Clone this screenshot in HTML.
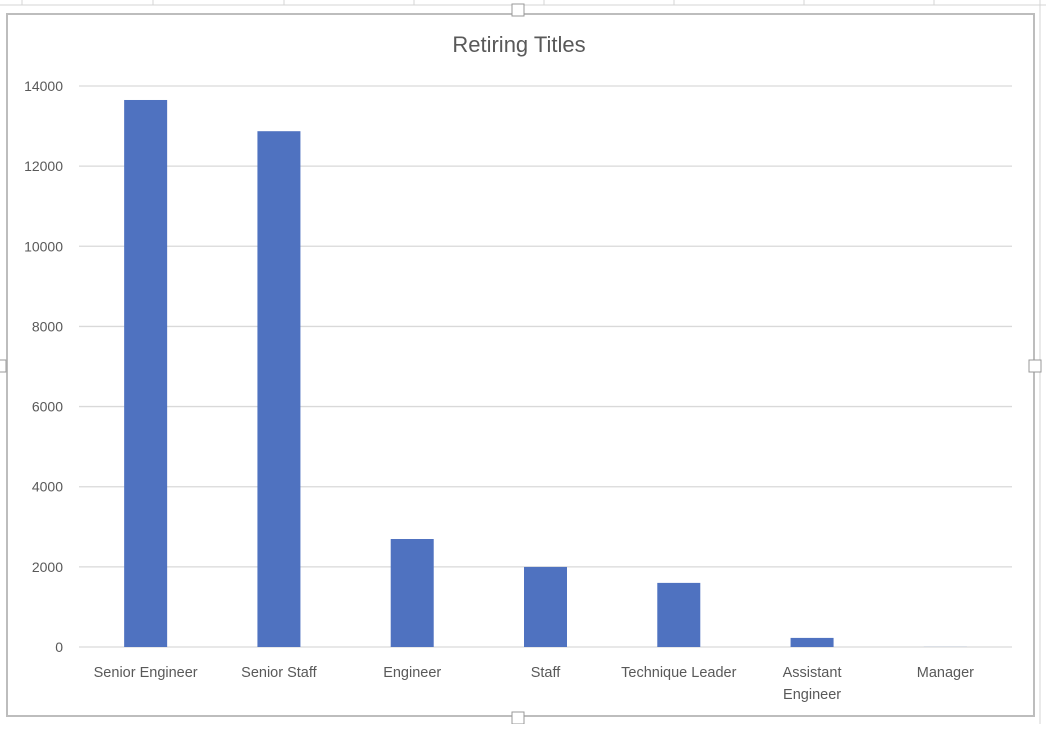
<!DOCTYPE html>
<html><head><meta charset="utf-8"><style>
body{margin:0;width:1046px;height:724px;background:#fff;overflow:hidden;font-family:"Liberation Sans",sans-serif}
</style></head><body>
<svg id="c" width="1046" height="724">
<g stroke="#d4d4d4">
<line x1="0" y1="5" x2="1046" y2="5"/>
<line x1="22" y1="0" x2="22" y2="5"/><line x1="153" y1="0" x2="153" y2="5"/><line x1="284" y1="0" x2="284" y2="5"/><line x1="414" y1="0" x2="414" y2="5"/><line x1="544" y1="0" x2="544" y2="5"/><line x1="674" y1="0" x2="674" y2="5"/><line x1="804" y1="0" x2="804" y2="5"/><line x1="934" y1="0" x2="934" y2="5"/>
<line x1="1040" y1="0" x2="1040" y2="724"/>
</g>
<rect x="7" y="14" width="1027" height="702" fill="#fff" stroke="#bdbdbd" stroke-width="2"/>
<text x="519" y="52" text-anchor="middle" font-size="22" fill="#595959">Retiring Titles</text>
<g id="grid"></g><g id="bars"></g><g id="labels"></g>
<rect x="512" y="4" width="12" height="12" fill="#fff" stroke="#999"/>
<rect x="1029" y="360" width="12" height="12" fill="#fff" stroke="#999"/>
<rect x="-6" y="360" width="12" height="12" fill="#fff" stroke="#999"/>
<rect x="512" y="712" width="12" height="12" fill="#fff" stroke="#999"/>
</svg>
<script>
const categories=["Senior Engineer","Senior Staff","Engineer","Staff","Technique Leader","Assistant Engineer","Manager"];
const values=[13651,12872,2695,1998,1600,227,2];
const yTicks=[0,2000,4000,6000,8000,10000,12000,14000];
const NS="http://www.w3.org/2000/svg";
const x0=79,x1=1012,y0=647,y1=86,yMax=14000;
const y=v=>y0-(v/yMax)*(y0-y1);
const band=(x1-x0)/categories.length;
const xc=i=>x0+band*(i+0.5);
function mk(t,a,p){const e=document.createElementNS(NS,t);for(const k in a)e.setAttribute(k,a[k]);document.getElementById(p).appendChild(e);return e;}
yTicks.forEach(v=>{
 const l=mk("line",{x1:x0,x2:x1,y1:y(v),y2:y(v),stroke:"#d9d9d9","stroke-width":1.3},"grid");
 
 
 const t=mk("text",{x:63,y:y(v)+5,"text-anchor":"end","font-size":14,fill:"#595959"},"labels");
 t.textContent=v;
 
 
});
const bw=43;
categories.forEach((c,i)=>{
 const r=mk("rect",{x:xc(i)-bw/2,y:y(values[i]),width:bw,height:y0-y(values[i]),fill:"#4f72c0"},"bars");
 
 
 const t=mk("text",{x:xc(i),y:677,"text-anchor":"middle","font-size":14.5,fill:"#595959"},"labels");
 
 
 const words=c==="Assistant Engineer"?["Assistant","Engineer"]:[c];
 words.forEach((w,j)=>{const s=document.createElementNS(NS,"tspan");s.setAttribute("x",xc(i));s.setAttribute("dy",j?22:0);s.textContent=w;t.appendChild(s);});
});
</script>
</body></html>
